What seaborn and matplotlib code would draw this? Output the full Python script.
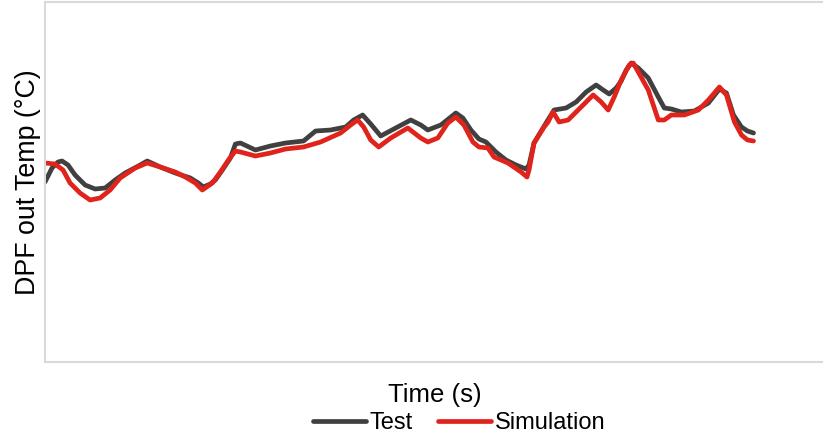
import matplotlib
matplotlib.use("Agg")
import matplotlib.pyplot as plt
from matplotlib.lines import Line2D
import pandas as pd
import seaborn as sns

# DPF outlet temperature traces (relative time / relative temperature units)
test_time = [0, 7, 13, 17, 23, 30, 40, 50, 60, 70,
             80, 95, 102, 115, 130, 145, 153, 158, 165, 170,
             177, 185, 190, 195, 210, 225, 240, 258, 270, 285,
             300, 308, 317, 325, 335, 350, 365, 375, 382, 395,
             410, 417, 425, 433, 440, 450, 460, 470, 480, 483,
             488, 500, 508, 520, 530, 540, 550, 557, 563, 570,
             575, 580, 585, 592, 602, 612, 618, 625, 635, 648,
             662, 673, 680, 687, 695, 701, 707]
test_temp = [180, 194, 200, 201, 197, 187, 177, 173, 174, 182,
             189, 197, 201, 195, 189, 184, 179, 175, 178, 182,
             192, 204, 218, 219, 212, 216, 219, 221, 231, 232,
             235, 242, 247, 238, 226, 234, 242, 237, 232, 237,
             249, 244, 232, 223, 220, 210, 202, 197, 193, 197,
             219, 239, 252, 254, 260, 270, 277, 272, 268, 274,
             281, 292, 299, 294, 284, 265, 254, 253, 250, 251,
             259, 273, 269, 247, 235, 231, 229]

sim_time = [0, 10, 18, 25, 35, 45, 55, 65, 75, 90,
            102, 115, 130, 140, 150, 157, 167, 175, 183, 190,
            195, 210, 225, 240, 258, 275, 295, 305, 312, 318,
            325, 333, 345, 362, 375, 382, 392, 402, 410, 418,
            427, 433, 442, 448, 462, 475, 481, 483, 488, 498,
            502, 507, 513, 522, 535, 547, 555, 562, 568, 575,
            583, 587, 592, 602, 607, 612, 618, 625, 638, 652,
            662, 673, 680, 688, 695, 701, 707]
sim_temp = [199, 198, 192, 179, 169, 162, 164, 172, 184, 194,
            199, 195, 190, 185, 179, 172, 179, 190, 202, 211,
            210, 206, 209, 213, 215, 220, 229, 237, 242, 235,
            222, 215, 224, 234, 224, 220, 224, 239, 245, 237,
            220, 215, 214, 205, 199, 190, 185, 192, 219, 235,
            240, 250, 240, 242, 255, 267, 260, 252, 265, 282,
            297, 299, 290, 272, 257, 242, 242, 247, 247, 252,
            262, 275, 267, 240, 227, 222, 221]

series_names = ["Test", "Simulation"]

df = pd.concat([
    pd.DataFrame({"Time (s)": test_time, "Temp": test_temp, "Series": "Test"}),
    pd.DataFrame({"Time (s)": sim_time, "Temp": sim_temp, "Series": "Simulation"}),
], ignore_index=True)

sns.set_theme(style="white")
plt.rcParams["font.family"] = ["Liberation Sans", "DejaVu Sans"]

fig = plt.figure(figsize=(8.23, 4.37), dpi=100)
ax = fig.add_axes([45 / 823, 75 / 437, 1.0 - 45 / 823 + 0.002, 360 / 437])

palette = {"Test": "#404040", "Simulation": "#e0241c"}
lw = 3.4
sns.lineplot(data=df, x="Time (s)", y="Temp", hue="Series", hue_order=series_names,
             palette=palette, estimator=None, sort=False, linewidth=lw,
             ax=ax, legend=False)
for line in ax.lines:
    line.set_solid_capstyle("round")
    line.set_solid_joinstyle("round")

ax.set_xlim(0, 778)
ax.set_ylim(0, 360)
ax.set_xticks([])
ax.set_yticks([])
ax.set_xlabel("Time (s)", fontsize=18.5, color="black", labelpad=15)
ax.set_ylabel("DPF out Temp (°C)", fontsize=19.3, color="black", labelpad=3)

for side in ["left", "bottom", "top"]:
    ax.spines[side].set_color("#d9d9d9")
    ax.spines[side].set_linewidth(1.5)
ax.spines["right"].set_visible(False)

handles = [Line2D([], [], color=palette[s], linewidth=lw) for s in series_names]
leg = fig.legend(handles, series_names, loc="center",
                 bbox_to_anchor=(0.558, 0.032), ncol=2, frameon=False,
                 fontsize=17, handlelength=2.25, handletextpad=0.17,
                 columnspacing=1.06)
for t in leg.get_texts():
    t.set_color("black")

fig.savefig("out.png", dpi=100)
